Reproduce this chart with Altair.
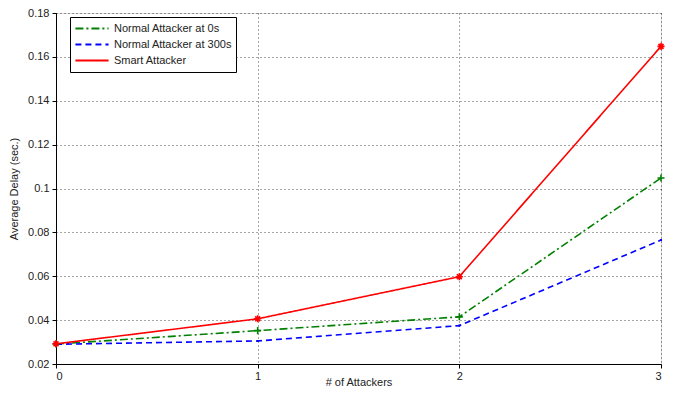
import altair as alt
import pandas as pd

attackers = [0, 1, 2, 3]
series_names = ["Normal Attacker at 0s", "Normal Attacker at 300s", "Smart Attacker"]
normal_0s = [0.0291, 0.0352, 0.0415, 0.1048]
normal_300s = [0.0290, 0.0305, 0.0375, 0.0765]
smart = [0.0292, 0.0406, 0.0598, 0.1648]
y_ticks = [0.02, 0.04, 0.06, 0.08, 0.10, 0.12, 0.14, 0.16, 0.18]
x_ticks = [0, 1, 2, 3]

rows = []
for name, vals in zip(series_names, [normal_0s, normal_300s, smart]):
    for a, v in zip(attackers, vals):
        rows.append({"attackers": a, "delay": v, "series": name, "marker": name})
df = pd.DataFrame(rows)

colors = ["#008000", "#0000ff", "#ff0000"]
dashes = [[8, 3, 2, 3], [6, 4], [1, 0]]
plus = "M-1,0L1,0M0,-1L0,1"
dot = "M-0.3,0L0.3,0M0,-0.3L0,0.3"
star = "M-1,0L1,0M0,-1L0,1M-0.7,-0.7L0.7,0.7M-0.7,0.7L0.7,-0.7"

x = alt.X("attackers:Q", scale=alt.Scale(domain=[0, 3], nice=False),
          axis=alt.Axis(values=x_ticks, format="d", title="# of Attackers",
                        grid=True, gridDash=[1, 3], gridColor="#000000", gridOpacity=0.7,
                        tickSize=4, domainColor="#000000", tickColor="#000000",
                        labelFont="Liberation Sans", labelFontSize=11, labelColor="#222",
                        titleFont="Liberation Sans", titleFontSize=11, titleFontWeight="normal",
                        titleColor="#222", titleBaseline="alphabetic", titleY=21.5,
                        labelPadding=2))
y = alt.Y("delay:Q", scale=alt.Scale(domain=[0.02, 0.18], nice=False),
          axis=alt.Axis(values=y_ticks, format=".2~f", title="Average Delay (sec.)",
                        grid=True, gridDash=[1, 3], gridColor="#000000", gridOpacity=0.7,
                        tickSize=4, domainColor="#000000", tickColor="#000000",
                        labelFont="Liberation Sans", labelFontSize=11, labelColor="#222",
                        titleFont="Liberation Sans", titleFontSize=11, titleFontWeight="normal",
                        titleColor="#222", titlePadding=8, labelPadding=3))

color = alt.Color("series:N", scale=alt.Scale(domain=series_names, range=colors),
                  legend=alt.Legend(title=None, orient="none", legendX=14, legendY=4,
                                    symbolType="stroke", symbolSize=1100, symbolStrokeWidth=2,
                                    clipHeight=15,
                                    labelFont="Liberation Sans", labelFontSize=11,
                                    labelColor="#222", strokeColor="#000000",
                                    fillColor="#ffffff", padding=4, rowPadding=1,
                                    labelOffset=4,
                                    cornerRadius=0, labelLimit=300))
dash = alt.StrokeDash("series:N", scale=alt.Scale(domain=series_names, range=dashes),
                      legend=alt.Legend(title=None, orient="none", legendX=14, legendY=4))

lines = alt.Chart(df).mark_line(strokeWidth=1.6).encode(x=x, y=y, color=color, strokeDash=dash)
points = alt.Chart(df).mark_point(filled=False, size=50, strokeWidth=1.6, opacity=1).encode(
    x=x, y=y,
    stroke=alt.Stroke("marker:N", scale=alt.Scale(domain=series_names, range=colors), legend=None),
    shape=alt.Shape("marker:N", scale=alt.Scale(domain=series_names, range=[plus, dot, star]), legend=None),
)

chart = alt.layer(lines, points).resolve_scale(
    shape="independent", stroke="independent"
).resolve_legend(shape="independent", stroke="independent").properties(
    width=605, height=351,
    autosize=alt.AutoSizeParams(type="none"),
    padding={"left": 48, "top": 5, "right": 4, "bottom": 24},
).configure_view(stroke="#000000", strokeWidth=1).configure(background="#ffffff")

chart.save("out.html", embed_options={"renderer": "svg", "actions": False})
